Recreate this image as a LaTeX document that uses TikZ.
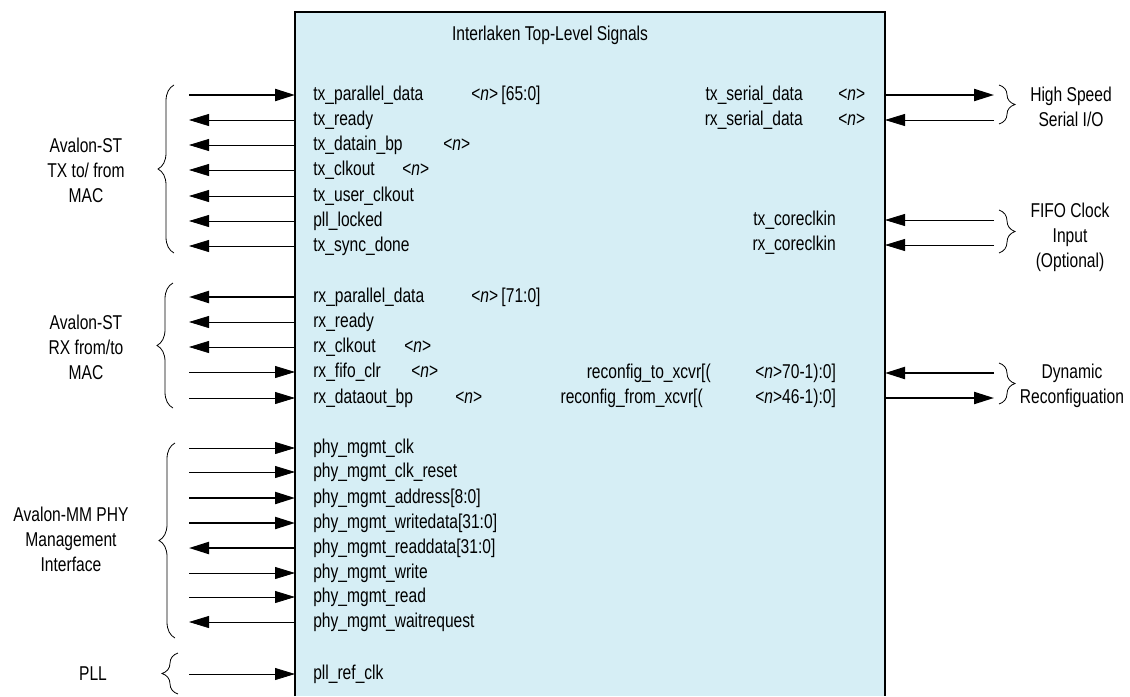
\documentclass[tikz,border=0pt]{standalone}
\usepackage{fontspec}
\setmainfont{Liberation Sans}[FakeStretch=0.78]
\usetikzlibrary{arrows.meta,decorations.pathreplacing}

\definecolor{boxfill}{RGB}{214,238,245}

\tikzset{
  sig/.style={anchor=west, inner sep=0pt, text height=10pt, text depth=2pt},
  sigr/.style={sig, anchor=east},
  wire/.style={line width=0.6pt, -{Triangle[length=15pt,width=9pt]}},
  bus/.style={wire, line width=1.6pt},
  grp/.style={decorate, decoration={brace, amplitude=12pt}, line width=0.6pt},
  lbl/.style={align=center, inner sep=0pt},
}

\begin{document}
\begin{tikzpicture}[x=0.75pt, y=-0.75pt, font=\fontsize{15}{18.75}\selectfont]
    \useasboundingbox (0,0) rectangle (1130,696);
    %--- Core block ---
    \fill[boxfill] (295,12) rectangle (885,696);
    \draw[line width=0.8pt] (295,696) -- (295,12) -- (885,12) -- (885,696);
    \node (title) at (550,35) {Interlaken Top-Level Signals};
    \coordinate (outL) at (189,0);
    \coordinate (boxW) at (295,0);
    \coordinate (boxE) at (885,0);
    \coordinate (outR) at (994,0);
    %--- Avalon-ST TX ---
    \node[sig] (txpd) at (313,95) {tx\_parallel\_data};
    \node[sig] (txpdw) at (471,95) {<\textit{n}>\,[65:0]};
    \draw[bus] (txpd -| outL) -- (txpd -| boxW);
    \node[sig] (txrdy) at (313,120) {tx\_ready};
    \draw[wire] (txrdy -| boxW) -- (txrdy -| outL);
    \node[sig] (txbp) at (313,145) {tx\_datain\_bp};
    \node[sig] (txbpw) at (443,145) {<\textit{n}>};
    \draw[wire] (txbp -| boxW) -- (txbp -| outL);
    \node[sig] (txclk) at (313,170) {tx\_clkout};
    \node[sig] (txclkw) at (402,170) {<\textit{n}>};
    \draw[wire] (txclk -| boxW) -- (txclk -| outL);
    \node[sig] (txuclk) at (313,196) {tx\_user\_clkout};
    \draw[wire] (txuclk -| boxW) -- (txuclk -| outL);
    \node[sig] (plllk) at (313,221) {pll\_locked};
    \draw[wire] (plllk -| boxW) -- (plllk -| outL);
    \node[sig] (txsync) at (313,246) {tx\_sync\_done};
    \draw[wire] (txsync -| boxW) -- (txsync -| outL);
    \draw[grp] (174,253) -- (174,85);
    \node[lbl] (txgrp) at (86,170) {Avalon-ST\\TX to/ from\\MAC};
    %--- Avalon-ST RX ---
    \node[sig] (rxpd) at (313,297) {rx\_parallel\_data};
    \node[sig] (rxpdw) at (471,297) {<\textit{n}>\,[71:0]};
    \draw[bus] (rxpd -| boxW) -- (rxpd -| outL);
    \node[sig] (rxrdy) at (313,322) {rx\_ready};
    \draw[wire] (rxrdy -| boxW) -- (rxrdy -| outL);
    \node[sig] (rxclk) at (313,347) {rx\_clkout};
    \node[sig] (rxclkw) at (404,347) {<\textit{n}>};
    \draw[wire] (rxclk -| boxW) -- (rxclk -| outL);
    \node[sig] (rxclr) at (313,372) {rx\_fifo\_clr};
    \node[sig] (rxclrw) at (411,372) {<\textit{n}>};
    \draw[wire] (rxclr -| outL) -- (rxclr -| boxW);
    \node[sig] (rxbp) at (313,398) {rx\_dataout\_bp};
    \node[sig] (rxbpw) at (455,398) {<\textit{n}>};
    \draw[wire] (rxbp -| outL) -- (rxbp -| boxW);
    \draw[grp] (173,408) -- (173,283);
    \node[lbl] (rxgrp) at (86,347) {Avalon-ST\\RX from/to\\MAC};
    %--- Avalon-MM PHY management ---
    \node[sig] (mclk) at (313,448) {phy\_mgmt\_clk};
    \draw[wire] (mclk -| outL) -- (mclk -| boxW);
    \node[sig] (mrst) at (313,472) {phy\_mgmt\_clk\_reset};
    \draw[wire] (mrst -| outL) -- (mrst -| boxW);
    \node[sig] (maddr) at (313,498) {phy\_mgmt\_address[8:0]};
    \draw[bus] (maddr -| outL) -- (maddr -| boxW);
    \node[sig] (mwdat) at (313,523) {phy\_mgmt\_writedata[31:0]};
    \draw[bus] (mwdat -| outL) -- (mwdat -| boxW);
    \node[sig] (mrdat) at (313,548) {phy\_mgmt\_readdata[31:0]};
    \draw[bus] (mrdat -| boxW) -- (mrdat -| outL);
    \node[sig] (mwr) at (313,573) {phy\_mgmt\_write};
    \draw[wire] (mwr -| outL) -- (mwr -| boxW);
    \node[sig] (mrd) at (313,597) {phy\_mgmt\_read};
    \draw[wire] (mrd -| outL) -- (mrd -| boxW);
    \node[sig] (mwait) at (313,622) {phy\_mgmt\_waitrequest};
    \draw[wire] (mwait -| boxW) -- (mwait -| outL);
    \draw[grp] (175,638) -- (175,443);
    \node[lbl] (mmgrp) at (71,539) {Avalon-MM PHY\\Management\\Interface};
    %--- PLL ---
    \node[sig] (pllref) at (313,674) {pll\_ref\_clk};
    \draw[wire] (pllref -| outL) -- (pllref -| boxW);
    \draw[grp] (178,694) -- (178,653);
    \node[lbl] (pllgrp) at (93,674) {PLL};
    %--- High speed serial ---
    \node[sigr] (txsd) at (803,95) {tx\_serial\_data};
    \node[sig] (txsdw) at (838,95) {<\textit{n}>};
    \draw[bus] (txsd -| boxE) -- (txsd -| outR);
    \node[sigr] (rxsd) at (803,120) {rx\_serial\_data};
    \node[sig] (rxsdw) at (838,120) {<\textit{n}>};
    \draw[wire] (rxsd -| outR) -- (rxsd -| boxE);
    \draw[grp] (999,85) -- (999,124);
    \node[lbl] (sergrp) at (1071,107) {High Speed\\Serial I/O};
    %--- FIFO clock ---
    \node[sigr] (txcore) at (836,220) {tx\_coreclkin};
    \draw[wire] (txcore -| outR) -- (txcore -| boxE);
    \node[sigr] (rxcore) at (836,245) {rx\_coreclkin};
    \draw[wire] (rxcore -| outR) -- (rxcore -| boxE);
    \draw[grp] (999,210) -- (999,253);
    \node[lbl] (fifogrp) at (1070,237) {FIFO Clock\\Input\\(Optional)};
    %--- Dynamic reconfiguration ---
    \node[sigr] (rcto) at (711,373) {reconfig\_to\_xcvr[(};
    \node[sig] (rctow) at (755,373) {<\textit{n}>70-1):0]};
    \draw[bus] (rcto -| outR) -- (rcto -| boxE);
    \node[sigr] (rcfrom) at (703,398) {reconfig\_from\_xcvr[(};
    \node[sig] (rcfromw) at (755,398) {<\textit{n}>46-1):0]};
    \draw[bus] (rcfrom -| boxE) -- (rcfrom -| outR);
    \draw[grp] (999,363) -- (999,404);
    \node[lbl] (dyngrp) at (1072,386) {Dynamic\\Reconfiguation};
\end{tikzpicture}
\end{document}
